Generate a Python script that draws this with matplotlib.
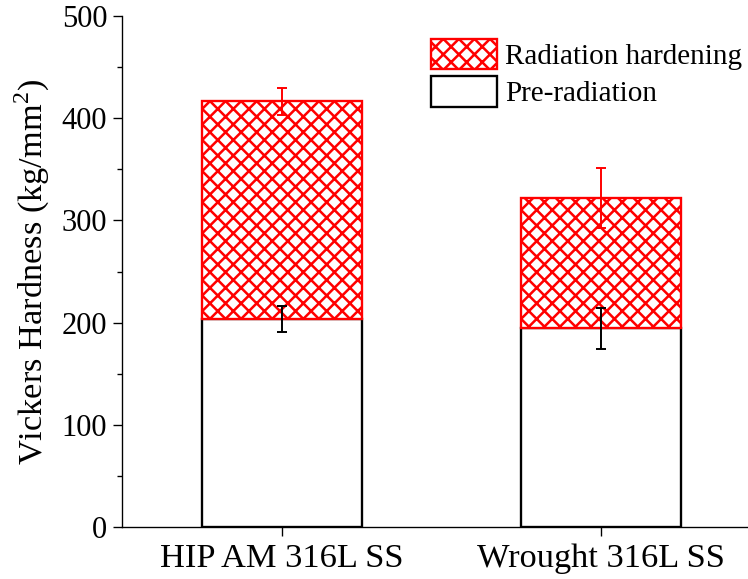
import numpy as np
import matplotlib
matplotlib.use("Agg")
import matplotlib.pyplot as plt
from matplotlib.patches import Patch

# -------------------------
# Daten
# -------------------------
samples = ["HIP AM 316L SS", "Wrought 316L SS"]
pre_rad = [203.5, 194.5]
pre_err = [13, 20]
hardening = [213.0, 127.5]
total_err = [13, 29]

# -------------------------
# Stil
# -------------------------
DPI = 140
plt.rcParams["font.family"] = ["Liberation Serif", "DejaVu Serif"]
plt.rcParams["mathtext.fontset"] = "custom"
plt.rcParams["mathtext.rm"] = "Liberation Serif"
plt.rcParams["hatch.linewidth"] = 1.3
plt.rcParams["hatch.color"] = "red"

fig = plt.figure(figsize=(748 / DPI, 579 / DPI), dpi=DPI, facecolor="white")
ax = fig.add_axes([122 / 748, 1 - 527 / 579, 1 - 122 / 748, (527 - 16) / 579])

x = np.arange(len(samples))
width = 0.5
total = np.array(pre_rad) + np.array(hardening)

ax.bar(x, pre_rad, width, color="white", edgecolor="black", linewidth=1.2, zorder=2)
ax.bar(x, hardening, width, bottom=pre_rad, color="white", edgecolor="red",
       hatch="xxx", linewidth=1.2, zorder=3)

ax.errorbar(x, pre_rad, yerr=pre_err, fmt="none", ecolor="black",
            elinewidth=1.0, capsize=2.6, capthick=1.0, zorder=4)
ax.errorbar(x, total, yerr=total_err, fmt="none", ecolor="red",
            elinewidth=1.0, capsize=2.6, capthick=1.0, zorder=4)

# Achsen
ax.set_xlim(-0.5, 1.46)
ax.set_ylim(0, 500)
ax.set_xticks(x)
ax.set_xticklabels(samples, fontsize=17.7)
ax.tick_params(axis="x", direction="out", length=4.6, width=0.7, pad=4)
ax.set_yticks(np.arange(0, 501, 100))
ax.set_yticks(np.arange(50, 500, 100), minor=True)
ax.tick_params(axis="y", which="major", direction="out", length=4.6, width=0.7,
               labelsize=15.7, pad=3)
ax.tick_params(axis="y", which="minor", direction="out", length=2.4, width=0.7)
for s in ["top", "right"]:
    ax.spines[s].set_visible(False)
for s in ["left", "bottom"]:
    ax.spines[s].set_linewidth(0.7)

ax.set_ylabel(r"Vickers Hardness (kg/mm$^\mathregular{2}$)", fontsize=17.7, labelpad=5)

handles = [
    Patch(facecolor="white", edgecolor="red", hatch="xxx", linewidth=1.2, label="Radiation hardening"),
    Patch(facecolor="white", edgecolor="black", linewidth=1.2, label="Pre-radiation"),
]
ax.legend(handles=handles, loc="upper right", bbox_to_anchor=(1.018, 0.99), frameon=False,
          fontsize=15, handlelength=2.25, handleheight=1.25, handletextpad=0.28,
          labelspacing=0.2, borderaxespad=0.2)

fig.savefig("out.png", dpi=DPI)
